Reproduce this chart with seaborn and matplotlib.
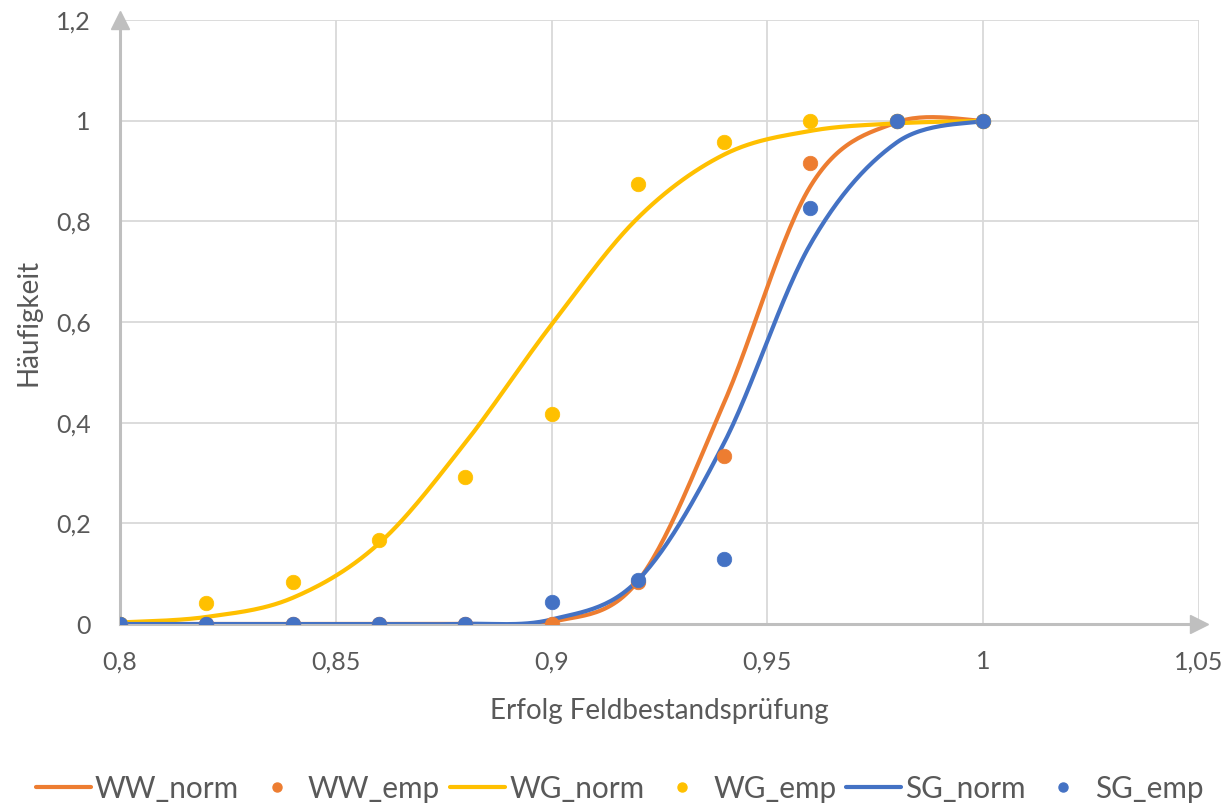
import numpy as np
import pandas as pd
import matplotlib
matplotlib.use("Agg")
import matplotlib.pyplot as plt
from matplotlib.lines import Line2D
from matplotlib.ticker import FuncFormatter, MultipleLocator
import seaborn as sns

# values
x_vals = [0.80, 0.82, 0.84, 0.86, 0.88, 0.90, 0.92, 0.94, 0.96, 0.98, 1.00]
ww_norm = [0.0, 0.0, 0.0, 0.0, 0.0002, 0.004, 0.085, 0.44, 0.87, 0.997, 1.0]
ww_emp = [0.0, 0.0, 0.0, 0.0, 0.0, 0.0, 0.083, 0.333, 0.917, 1.0, 1.0]
wg_norm = [0.003, 0.014, 0.052, 0.16, 0.36, 0.595, 0.807, 0.933, 0.98, 0.995, 1.0]
wg_emp = [0.0, 0.042, 0.083, 0.167, 0.292, 0.417, 0.875, 0.958, 1.0, 1.0, 1.0]
sg_norm = [0.0, 0.0, 0.0, 0.0, 0.0003, 0.009, 0.087, 0.36, 0.755, 0.957, 1.0]
sg_emp = [0.0, 0.0, 0.0, 0.0, 0.0, 0.043, 0.087, 0.130, 0.826, 1.0, 1.0]

colors = {"WW": "#ED7D31", "WG": "#FFC000", "SG": "#4472C4"}
text_col = "#595959"


def smooth(xs, ys, n=30):
    # Excel-like smoothed line: cubic bezier with catmull-rom control points
    px = [xs[0]] + list(xs) + [xs[-1]]
    py = [ys[0]] + list(ys) + [ys[-1]]
    out_x, out_y = [], []
    t = np.linspace(0, 1, n)
    for i in range(1, len(px) - 2):
        x0, x1, x2, x3 = px[i - 1], px[i], px[i + 1], px[i + 2]
        y0, y1, y2, y3 = py[i - 1], py[i], py[i + 1], py[i + 2]
        c1x, c1y = x1 + (x2 - x0) / 6, y1 + (y2 - y0) / 6
        c2x, c2y = x2 - (x3 - x1) / 6, y2 - (y3 - y1) / 6
        bx = (1 - t) ** 3 * x1 + 3 * (1 - t) ** 2 * t * c1x + 3 * (1 - t) * t ** 2 * c2x + t ** 3 * x2
        by = (1 - t) ** 3 * y1 + 3 * (1 - t) ** 2 * t * c1y + 3 * (1 - t) * t ** 2 * c2y + t ** 3 * y2
        out_x.extend(bx)
        out_y.extend(by)
    return out_x, out_y


sns.set_theme(style="white")
plt.rcParams["font.family"] = ["Lato", "DejaVu Sans"]

fig = plt.figure(figsize=(12.27, 8.08), dpi=100)
ax = fig.add_axes([0.0978, 0.2277, 0.8792, 0.7473])

norm_series = [("WW", ww_norm), ("WG", wg_norm), ("SG", sg_norm)]
emp_series = [("WW", ww_emp), ("WG", wg_emp), ("SG", sg_emp)]

for name, ys in norm_series:
    sx, sy = smooth(x_vals, ys)
    df = pd.DataFrame({"x": sx, "y": sy})
    sns.lineplot(data=df, x="x", y="y", ax=ax, color=colors[name], linewidth=3.0,
                 sort=False, estimator=None, zorder=3)

for name, ys in emp_series:
    df = pd.DataFrame({"x": x_vals, "y": ys})
    sns.scatterplot(data=df, x="x", y="y", ax=ax, color=colors[name], s=110,
                    edgecolor=colors[name], linewidth=0.5, zorder=4)

ax.set_xlim(0.8, 1.05)
ax.set_ylim(0, 1.2)
ax.xaxis.set_major_locator(MultipleLocator(0.05))
ax.yaxis.set_major_locator(MultipleLocator(0.2))


def de_fmt(v, pos):
    s = ("%.2f" % v).rstrip("0").rstrip(".")
    return s.replace(".", ",")


ax.xaxis.set_major_formatter(FuncFormatter(de_fmt))
ax.yaxis.set_major_formatter(FuncFormatter(de_fmt))
ax.grid(True, color="#D9D9D9", linewidth=1.3)
ax.set_axisbelow(True)
for side in ["top", "right"]:
    ax.spines[side].set_visible(False)
for side in ["left", "bottom"]:
    ax.spines[side].set_color("#BFBFBF")
    ax.spines[side].set_linewidth(2.2)
    ax.spines[side].set_zorder(2)
ax.tick_params(axis="both", length=0, labelsize=18, colors=text_col)
ax.tick_params(axis="x", pad=19)
ax.tick_params(axis="y", pad=21)

# arrow heads at the axis ends
ax.plot([0], [1], marker="^", markersize=13, color="#BFBFBF", transform=ax.transAxes,
        clip_on=False, zorder=2)
ax.plot([1], [0], marker=">", markersize=13, color="#BFBFBF", transform=ax.transAxes,
        clip_on=False, zorder=2)

ax.set_xlabel("Erfolg Feldbestandsprüfung", fontsize=20, color=text_col)
ax.set_ylabel("Häufigkeit", fontsize=20, color=text_col)
ax.xaxis.set_label_coords(0.5, -0.122)
ax.yaxis.set_label_coords(-0.073, 0.5)

handles, labels = [], []
for name in ["WW", "WG", "SG"]:
    handles.append(Line2D([0], [0], color=colors[name], linewidth=3.0))
    labels.append(name + "_norm")
    handles.append(Line2D([0], [0], color=colors[name], marker="o", linestyle="none",
                          markersize=6.5))
    labels.append(name + "_emp")
fig.legend(handles, labels, loc="center", bbox_to_anchor=(0.505, 0.024), ncol=6,
           frameon=False, fontsize=21.4, handlelength=1.85, handletextpad=0.13,
           columnspacing=0.34, labelcolor=text_col, borderpad=0, borderaxespad=0)

fig.savefig("out.png", dpi=100)
